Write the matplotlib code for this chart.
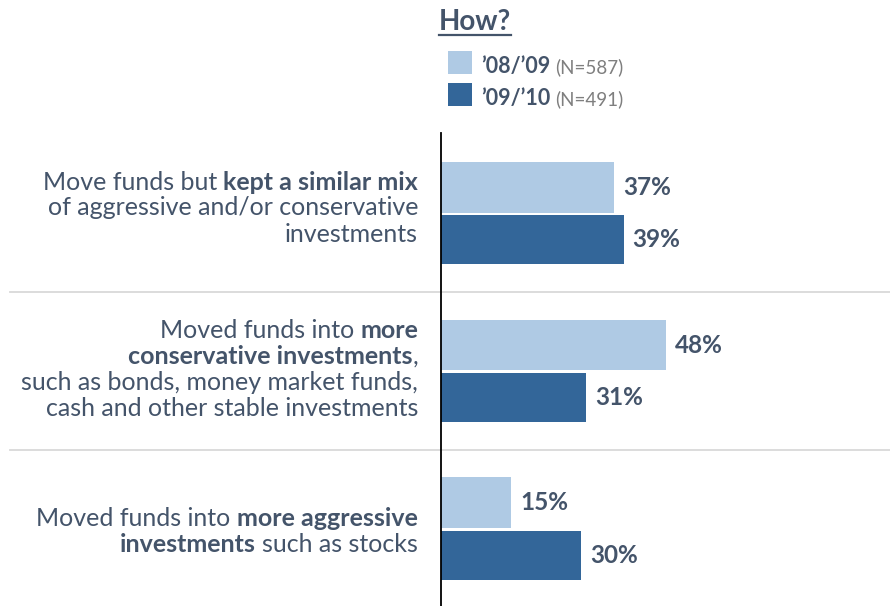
import matplotlib
matplotlib.use("Agg")
import matplotlib.pyplot as plt
from matplotlib.font_manager import FontProperties

# ---------------- data ----------------
title = "How?"
series_names = ["\u201908/\u201909", "\u201909/\u201910"]
series_n = ["(N=587)", "(N=491)"]
values_0809 = [37, 48, 15]
values_0910 = [39, 31, 30]
# category labels: lines of (text, bold) segments
category_lines = [
    [[("Move funds but", False), ("kept a similar mix", True)],
     [("of aggressive and/or conservative", False)],
     [("investments", False)]],
    [[("Moved funds into", False), ("more", True)],
     [("conservative investments", True), (",", False)],
     [("such as bonds, money market funds,", False)],
     [("cash and other stable investments", False)]],
    [[("Moved funds into", False), ("more aggressive", True)],
     [("investments", True), ("such as stocks", False)]],
]

# ---------------- style ----------------
W, H, DPI = 890, 606, 100
TXT = "#44546A"
GRAY = "#7F7F7F"
LIGHT = "#AFCAE4"
DARK = "#336699"
FAM = "Lato"

fig = plt.figure(figsize=(W / DPI, H / DPI), dpi=DPI)
fig.patch.set_facecolor("white")

def fx(x):
    return x / W

def fy(y):
    return 1 - y / H

# axes: x from 441 to 890 px, y from 133 to 606 px
ax_left, ax_top = 441, 133
ax = fig.add_axes([fx(ax_left), 0, 1 - fx(ax_left), fy(ax_top)])
px_per_unit = 4.68
ax.set_xlim(0, (W - ax_left) / px_per_unit)
grp_px = 157.75
first_center = 213.5
ax.set_ylim((H - first_center) / grp_px, (ax_top - first_center) / grp_px)
for s in ax.spines.values():
    s.set_visible(False)
ax.set_xticks([])
ax.set_yticks([])
ax.patch.set_alpha(0)

ypos = list(range(len(values_0809)))
off = 0.166
yl = [y - off for y in ypos]
yd = [y + off for y in ypos]
ax.barh(yl, values_0809, height=0.322, color=LIGHT, edgecolor="none")
ax.barh(yd, values_0910, height=0.31, color=DARK, edgecolor="none")

VAL_SIZE = 17.5
for v, y in zip(values_0809, yl):
    ax.annotate(f"{v}%", xy=(v, y), xytext=(6.5, 0), textcoords="offset points",
                ha="left", va="center", fontsize=VAL_SIZE, fontweight="bold",
                color=TXT, family=FAM)
for v, y in zip(values_0910, yd):
    ax.annotate(f"{v}%", xy=(v, y), xytext=(6.5, 0), textcoords="offset points",
                ha="left", va="center", fontsize=VAL_SIZE, fontweight="bold",
                color=TXT, family=FAM)

# vertical axis line
ax.axvline(0, color="black", lw=1.3, ymin=0, ymax=1, clip_on=False)

# separators
x0_frac = (10 - ax_left) / (W - ax_left)
for i in range(len(ypos) - 1):
    ax.axhline(i + 0.5, xmin=x0_frac, xmax=1, color="#D9D9D9", lw=1.3,
               clip_on=False, zorder=0)

# ---------------- category labels (mixed bold) ----------------
renderer = fig.canvas.get_renderer()
LBL_SIZE = 18
fp_reg = FontProperties(family=FAM, size=LBL_SIZE)
fp_bold = FontProperties(family=FAM, size=LBL_SIZE, weight="bold")

def tw(s, fp):
    w, h, d = renderer.get_text_width_height_descent(s, fp, ismath=False)
    return w

def space_w(fp):
    return tw("a a", fp) - tw("aa", fp)

right_x = 418
line_step = 26
label_shift_px = [2, 6, 10.5]
for gi, lines in enumerate(category_lines):
    center = first_center + gi * grp_px
    n = len(lines)
    mean_base = center + label_shift_px[gi]
    for li, segs in enumerate(lines):
        base = mean_base + (li - (n - 1) / 2) * line_step
        pieces = []
        for si, (txt, bold) in enumerate(segs):
            fp = fp_bold if bold else fp_reg
            w = tw(txt, fp)
            gap = 0
            if si < len(segs) - 1 and not segs[si + 1][0].startswith(","):
                gap = space_w(fp_reg)
            pieces.append((txt, bold, w, gap))
        total = sum(p[2] + p[3] for p in pieces)
        x = right_x - total
        for txt, bold, w, gap in pieces:
            fig.text(fx(x), fy(base), txt, ha="left", va="baseline",
                     fontsize=LBL_SIZE, fontweight="bold" if bold else "normal",
                     color=TXT, family=FAM)
            x += w + gap

# ---------------- title ----------------
TITLE_SIZE = 20
fig.text(fx(475), fy(30), title, ha="center", va="baseline", fontsize=TITLE_SIZE,
         fontweight="bold", color=TXT, family=FAM)
fp_title = FontProperties(family=FAM, size=TITLE_SIZE, weight="bold")
t_w = tw(title, fp_title)
fig.add_artist(plt.Line2D([fx(475 - t_w / 2), fx(475 + t_w / 2)], [fy(34.5), fy(34.5)],
                          color=TXT, lw=1.6))

# ---------------- legend ----------------
leg_colors = [LIGHT, DARK]
leg_tops = [51, 83]
LEG_B = 15.5
LEG_N = 13.5
fp_leg_b = FontProperties(family=FAM, size=LEG_B, weight="bold")
for name, nn, col, top in zip(series_names, series_n, leg_colors, leg_tops):
    fig.add_artist(plt.Rectangle((fx(448), fy(top + 23)), fx(24), 23 / H,
                                 color=col, lw=0))
    fig.text(fx(481), fy(top + 22), name, ha="left", va="baseline",
             fontsize=LEG_B, fontweight="bold", color=TXT, family=FAM)
    wn = tw(name, fp_leg_b)
    fig.text(fx(481 + wn + 5), fy(top + 22), nn, ha="left", va="baseline",
             fontsize=LEG_N, color=GRAY, family=FAM)

fig.savefig("out.png", dpi=DPI, facecolor="white")
